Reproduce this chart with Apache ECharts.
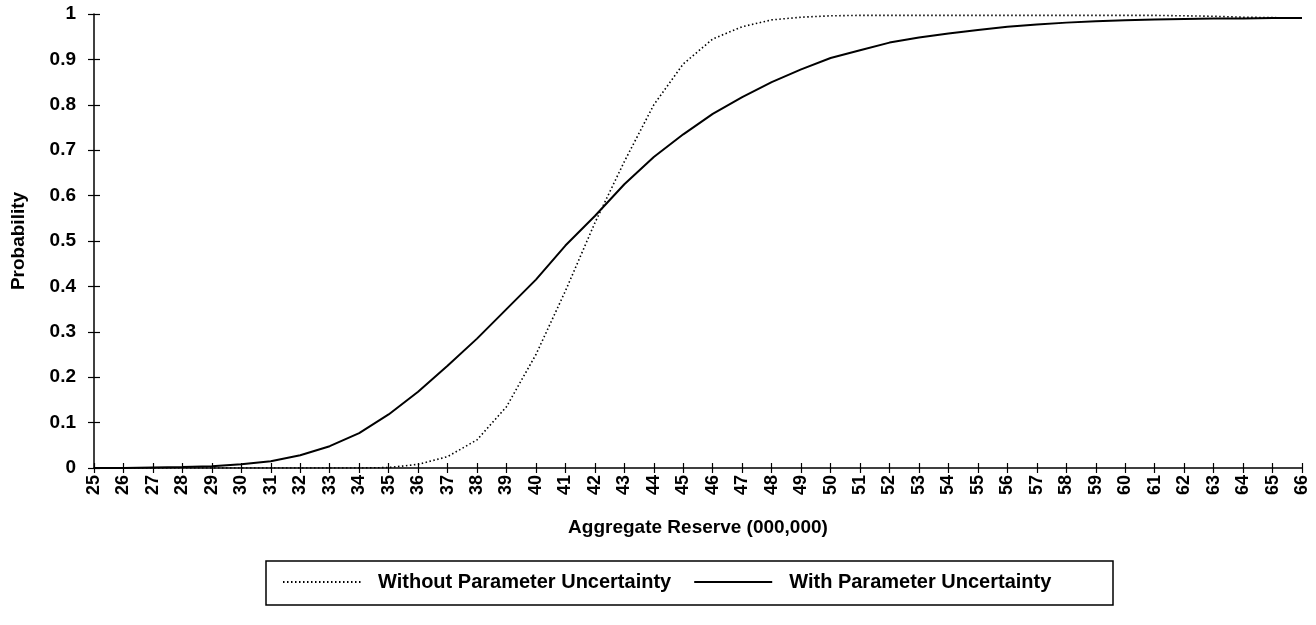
<!DOCTYPE html>
<html>
<head>
<meta charset="utf-8">
<script src="https://cdn.jsdelivr.net/npm/echarts@6/dist/echarts.min.js"></script>
<style>
  html, body { margin: 0; padding: 0; background: #fff; }
  #chart { width: 1316px; height: 625px; }
</style>
</head>
<body>
<div id="chart"></div>
<script>
// x categories (aggregate reserve, 000,000)
const reserves = ['25','26','27','28','29','30','31','32','33','34','35','36','37','38','39','40','41','42','43','44','45',
  '46','47','48','49','50','51','52','53','54','55','56','57','58','59','60','61','62','63','64','65','66'];

// dotted curve
const withoutUncertainty = [0, 0, 0, 0, 0, 0, 0, 0, 0, 0, 0.001, 0.008, 0.025, 0.062, 0.135, 0.25, 0.39, 0.54, 0.675, 0.8, 0.89,
  0.945, 0.972, 0.987, 0.993, 0.996, 0.997, 0.997, 0.997, 0.997, 0.997, 0.997, 0.997, 0.997, 0.997, 0.997, 0.997, 0.996, 0.995, 0.993, 0.992, 0.991];

// solid curve
const withUncertainty = [0, 0, 0.001, 0.002, 0.004, 0.008, 0.015, 0.028, 0.048, 0.077, 0.118, 0.168, 0.225, 0.285, 0.35, 0.415, 0.49, 0.555, 0.625, 0.685, 0.735,
  0.78, 0.817, 0.85, 0.878, 0.903, 0.92, 0.937, 0.948, 0.957, 0.965, 0.972, 0.977, 0.981, 0.984, 0.986, 0.988, 0.989, 0.99, 0.99, 0.991, 0.991];

const seriesNames = ['Without Parameter Uncertainty', 'With Parameter Uncertainty'];

const font = 'Liberation Sans, Arial, sans-serif';
const chart = echarts.init(document.getElementById('chart'));

// axis 0 draws line + outer ticks + labels; axis 1 (same scale) adds the inner half of each tick
const tickStyle = { color: '#000', width: 1.2 };

chart.setOption({
  animation: false,
  backgroundColor: '#fff',
  textStyle: { fontFamily: font },
  grid: { left: 94, right: 14, top: 14, bottom: 157, outerBoundsMode: 'none', containLabel: false },
  xAxis: [
    {
      type: 'category',
      data: reserves,
      boundaryGap: false,
      position: 'bottom',
      name: 'Aggregate Reserve (000,000)',
      nameLocation: 'middle',
      nameGap: 50,
      nameTextStyle: { color: '#000', fontSize: 19, fontWeight: 'bold', fontFamily: font },
      axisLine: { lineStyle: { color: '#000', width: 1.5 } },
      axisTick: { length: 5, lineStyle: tickStyle },
      axisLabel: { rotate: 90, margin: 7, color: '#000', fontSize: 18, fontWeight: 'bold', fontFamily: font, interval: 0 },
      splitLine: { show: false }
    },
    {
      type: 'category',
      data: reserves,
      boundaryGap: false,
      position: 'bottom',
      offset: 0,
      axisLine: { show: false, onZero: false },
      axisTick: { show: true, inside: true, length: 5, lineStyle: tickStyle },
      axisLabel: { show: false },
      splitLine: { show: false }
    }
  ],
  yAxis: [
    {
      type: 'value',
      min: 0,
      max: 1,
      interval: 0.1,
      name: 'Probability',
      nameLocation: 'middle',
      nameGap: 66,
      nameTextStyle: { color: '#000', fontSize: 19, fontWeight: 'bold', fontFamily: font },
      axisLine: { show: true, lineStyle: { color: '#000', width: 1.5 } },
      axisTick: { show: true, length: 6, lineStyle: tickStyle },
      axisLabel: {
        margin: 18, color: '#000', fontSize: 19, fontWeight: 'bold', fontFamily: font,
        formatter: v => String(+v.toFixed(1))
      },
      splitLine: { show: false }
    },
    {
      type: 'value',
      min: 0,
      max: 1,
      interval: 0.1,
      position: 'left',
      offset: 0,
      axisLine: { show: false, onZero: false },
      axisTick: { show: true, inside: true, length: 6, lineStyle: tickStyle },
      axisLabel: { show: false },
      splitLine: { show: false }
    }
  ],
  legend: {
    left: 282,
    top: 572,
    itemWidth: 78,
    itemHeight: 20,
    itemGap: 22,
    padding: 0,
    itemStyle: { opacity: 0 },
    textStyle: { color: '#000', fontSize: 20, fontWeight: 'bold', fontFamily: font, padding: [0, 0, 0, 12] },
    data: seriesNames
  },
  graphic: [{
    type: 'rect',
    shape: { x: 266, y: 561, width: 847, height: 44 },
    style: { fill: 'none', stroke: '#000', lineWidth: 1.5 },
    silent: true
  }],
  series: [
    {
      name: seriesNames[0],
      type: 'line',
      xAxisIndex: 1,
      yAxisIndex: 1,
      data: withoutUncertainty,
      symbol: 'none',
      lineStyle: { color: '#000', width: 1.6, type: [1.5, 2.5] },
      itemStyle: { color: '#000' }
    },
    {
      name: seriesNames[1],
      type: 'line',
      data: withUncertainty,
      symbol: 'none',
      lineStyle: { color: '#000', width: 2, type: 'solid' },
      itemStyle: { color: '#000' }
    }
  ]
});
</script>
</body>
</html>
